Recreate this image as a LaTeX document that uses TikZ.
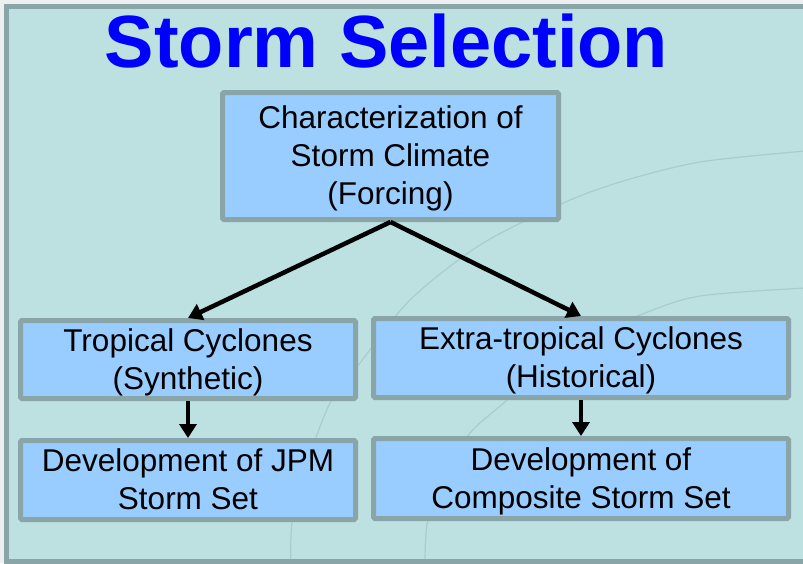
\documentclass[tikz,border=0pt]{standalone}
\usepackage{fontspec}
\setmainfont{Liberation Sans}
\usetikzlibrary{arrows.meta}
\definecolor{bgout}{RGB}{236,240,240}
\definecolor{bgin}{RGB}{189,224,225}
\definecolor{arcc}{RGB}{170,204,206}
\definecolor{frame}{RGB}{138,165,168}
\definecolor{boxfill}{RGB}{153,204,255}
\definecolor{titleblue}{RGB}{0,0,255}
\newcommand{\lstrut}{\rule[-6.7pt]{0pt}{35.2pt}}
\tikzset{
  box/.style={draw=frame, line width=5pt, fill=boxfill, rounded corners=1.5pt,
    inner sep=0pt, align=center, text=black,
    font=\fontsize{31.5}{38}\selectfont},
  arr/.style={line width=4.5pt, draw=black, -{Triangle[length=14pt,width=17pt]}},
  bgarc/.style={draw=arcc, line width=1.2pt}
}
\begin{document}
\begin{tikzpicture}[x=1pt,y=-1pt]
\useasboundingbox (0,0) rectangle (803,563);
\fill[bgout] (0,0) rectangle (803,563);
\fill[bgin] (6.5,6) rectangle (810,561);
% faint background arcs
\draw[bgarc] plot[smooth] coordinates {(806,151) (700,162) (620,182) (561,204) (480,245) (410,300) (360,363) (330,403) (305,470) (292,523) (291,565)};
\draw[bgarc] plot[smooth] coordinates {(806,288) (700,296) (640,315) (560,350) (507,400) (470,433) (440,480) (427,525) (425,565)};
\draw[frame, line width=5pt] (810,6) -- (6.5,6) -- (6.5,561) -- (810,561);
% title
\node[anchor=base, text=titleblue, font=\fontsize{74}{80}\selectfont\bfseries, inner sep=0pt] (title) at (386.5,67) {Storm Selection};
% boxes
\node[box, minimum width=336pt, minimum height=127pt] (top) at (390.5,156) {\lstrut Characterization of\\Storm Climate\\\lstrut(Forcing)};
\node[box, minimum width=335pt, minimum height=78pt] (tc) at (188,359.5) {\lstrut Tropical Cyclones\\\lstrut(Synthetic)};
\node[box, minimum width=335pt, minimum height=79pt] (jpm) at (188,480) {\lstrut Development of JPM\\\lstrut Storm Set};
\node[box, minimum width=415pt, minimum height=79pt] (etc) at (581,358) {\lstrut Extra-tropical Cyclones\\\lstrut(Historical)};
\node[box, minimum width=415pt, minimum height=80pt] (comp) at (581,478.5) {\lstrut Development of\\\lstrut Composite Storm Set};
% connectors
\draw[arr] (top.south) -- (tc.north);
\draw[arr] (top.south) -- (etc.north);
\draw[arr] (tc.south) -- (jpm.north);
\draw[arr] (etc.south) -- (comp.north);
\end{tikzpicture}
\end{document}
